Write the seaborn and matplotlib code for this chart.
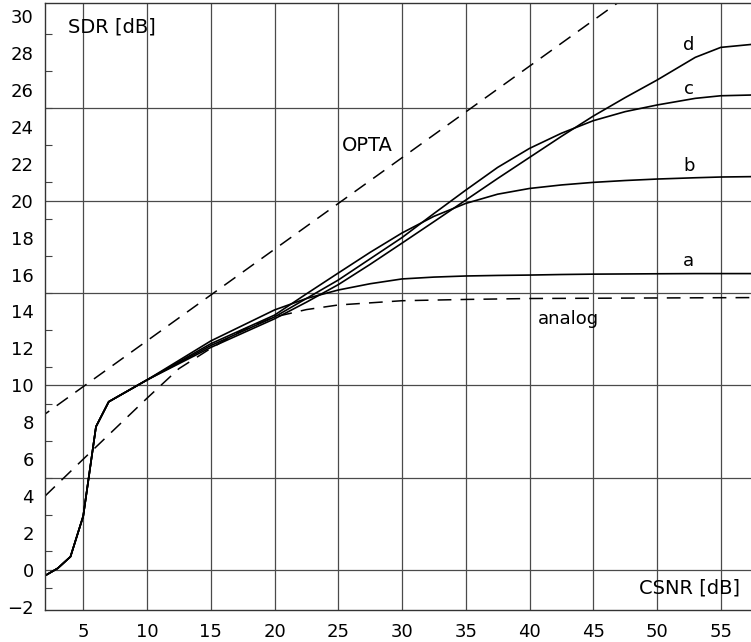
"""
SDR x CSNR: curvas a, b, c, d, analog e OPTA
"""
import matplotlib
matplotlib.use("Agg")
import matplotlib.pyplot as plt
import seaborn as sns
import pandas as pd
from matplotlib.ticker import MultipleLocator

# parte comum das quatro curvas (baixo CSNR)
csnr_comum = [2, 3, 4, 5, 6, 7, 10]
sdr_comum = [-0.31, 0.09, 0.72, 2.92, 7.76, 9.11, 10.29]

csnr_curvas = [15, 20, 22.5, 25, 27.5, 30, 32.5, 35, 37.5, 40, 42.5, 45, 47.5, 50, 53, 55, 57.4]
sdr_a = [12.40, 14.08, 14.70, 15.16, 15.50, 15.76, 15.86, 15.92, 15.95, 15.97, 16.00, 16.02, 16.03, 16.04, 16.05, 16.05, 16.05]
sdr_b = [12.25, 13.80, 14.95, 16.08, 17.20, 18.25, 19.15, 19.85, 20.35, 20.66, 20.85, 20.99, 21.09, 21.17, 21.24, 21.28, 21.30]
sdr_c = [12.15, 13.70, 14.70, 15.70, 16.85, 18.00, 19.30, 20.57, 21.80, 22.83, 23.65, 24.33, 24.82, 25.18, 25.54, 25.68, 25.72]
sdr_d = [12.05, 13.60, 14.50, 15.45, 16.55, 17.70, 18.86, 20.03, 21.20, 22.34, 23.48, 24.58, 25.58, 26.53, 27.76, 28.30, 28.46]

csnr_analog = [2, 5, 7.5, 10, 12.5, 15, 17.5, 20, 22.5, 25, 30, 35, 40, 50, 57.4]
sdr_analog = [4.0, 6.0, 7.65, 9.3, 10.9, 12.0, 13.0, 13.7, 14.1, 14.35, 14.58, 14.65, 14.70, 14.73, 14.75]

csnr_opta = [0, 60]
sdr_opta = [7.45, 37.2]

sns.set_theme(style="white")
plt.rcParams["font.family"] = ["DejaVu Sans"]
plt.rcParams["text.color"] = "black"

fig = plt.figure(figsize=(7.51, 6.42), dpi=100)
ax = fig.add_axes([0.0599, 0.0498, 0.9401, 0.946])

linhas = []
for nome, ys in [("a", sdr_a), ("b", sdr_b), ("c", sdr_c), ("d", sdr_d)]:
    linhas.append(pd.DataFrame({"csnr": csnr_comum + csnr_curvas,
                                "sdr": sdr_comum + ys, "curva": nome}))
tabela = pd.concat(linhas, ignore_index=True)

sns.lineplot(data=tabela, x="csnr", y="sdr", units="curva", estimator=None,
             sort=False, color="black", linewidth=1.2, ax=ax)
sns.lineplot(x=csnr_analog, y=sdr_analog, color="black", linewidth=1.1,
             ax=ax).lines[-1].set_dashes([9, 6])
sns.lineplot(x=csnr_opta, y=sdr_opta, color="black", linewidth=1.1,
             ax=ax).lines[-1].set_dashes([9, 6])

ax.set_xlim(2, 57.37)
ax.set_ylim(-2.17, 30.72)
ax.set_xlabel("")
ax.set_ylabel("")

ax.set_xticks(range(5, 56, 5))
ax.set_yticks(range(-2, 31, 2))
ax.yaxis.set_minor_locator(MultipleLocator(1))
ax.tick_params(axis="both", which="major", length=0, labelsize=13, labelcolor="black")
ax.tick_params(axis="x", pad=9)
ax.tick_params(axis="y", pad=8)
ax.tick_params(axis="y", which="minor", direction="in", length=5, width=0.8,
               left=True, color="#444444")

# grade a cada 5 dB
for v in range(5, 56, 5):
    ax.axvline(v, color="#4a4a4a", linewidth=0.9, zorder=0)
for v in range(0, 30, 5):
    ax.axhline(v, color="#4a4a4a", linewidth=0.9, zorder=0)

for lado in ["left", "bottom", "top"]:
    ax.spines[lado].set_color("#333333")
    ax.spines[lado].set_linewidth(1.0)
ax.spines["right"].set_visible(False)

ax.text(3.8, 29.4, "SDR [dB]", fontsize=14, va="center", ha="left", color="black")
ax.text(56.5, -0.97, "CSNR [dB]", fontsize=14, va="center", ha="right", color="black")
ax.text(25.27, 23.0, "OPTA", fontsize=14, va="center", ha="left", color="black")
ax.text(40.67, 13.6, "analog", fontsize=13, va="center", ha="left", color="black")
for letra, yy in [("a", 16.75), ("b", 21.85), ("c", 26.05), ("d", 28.43)]:
    ax.text(52.5, yy, letra, fontsize=13, va="center", ha="center", color="black")

plt.savefig("out.png", dpi=100)
